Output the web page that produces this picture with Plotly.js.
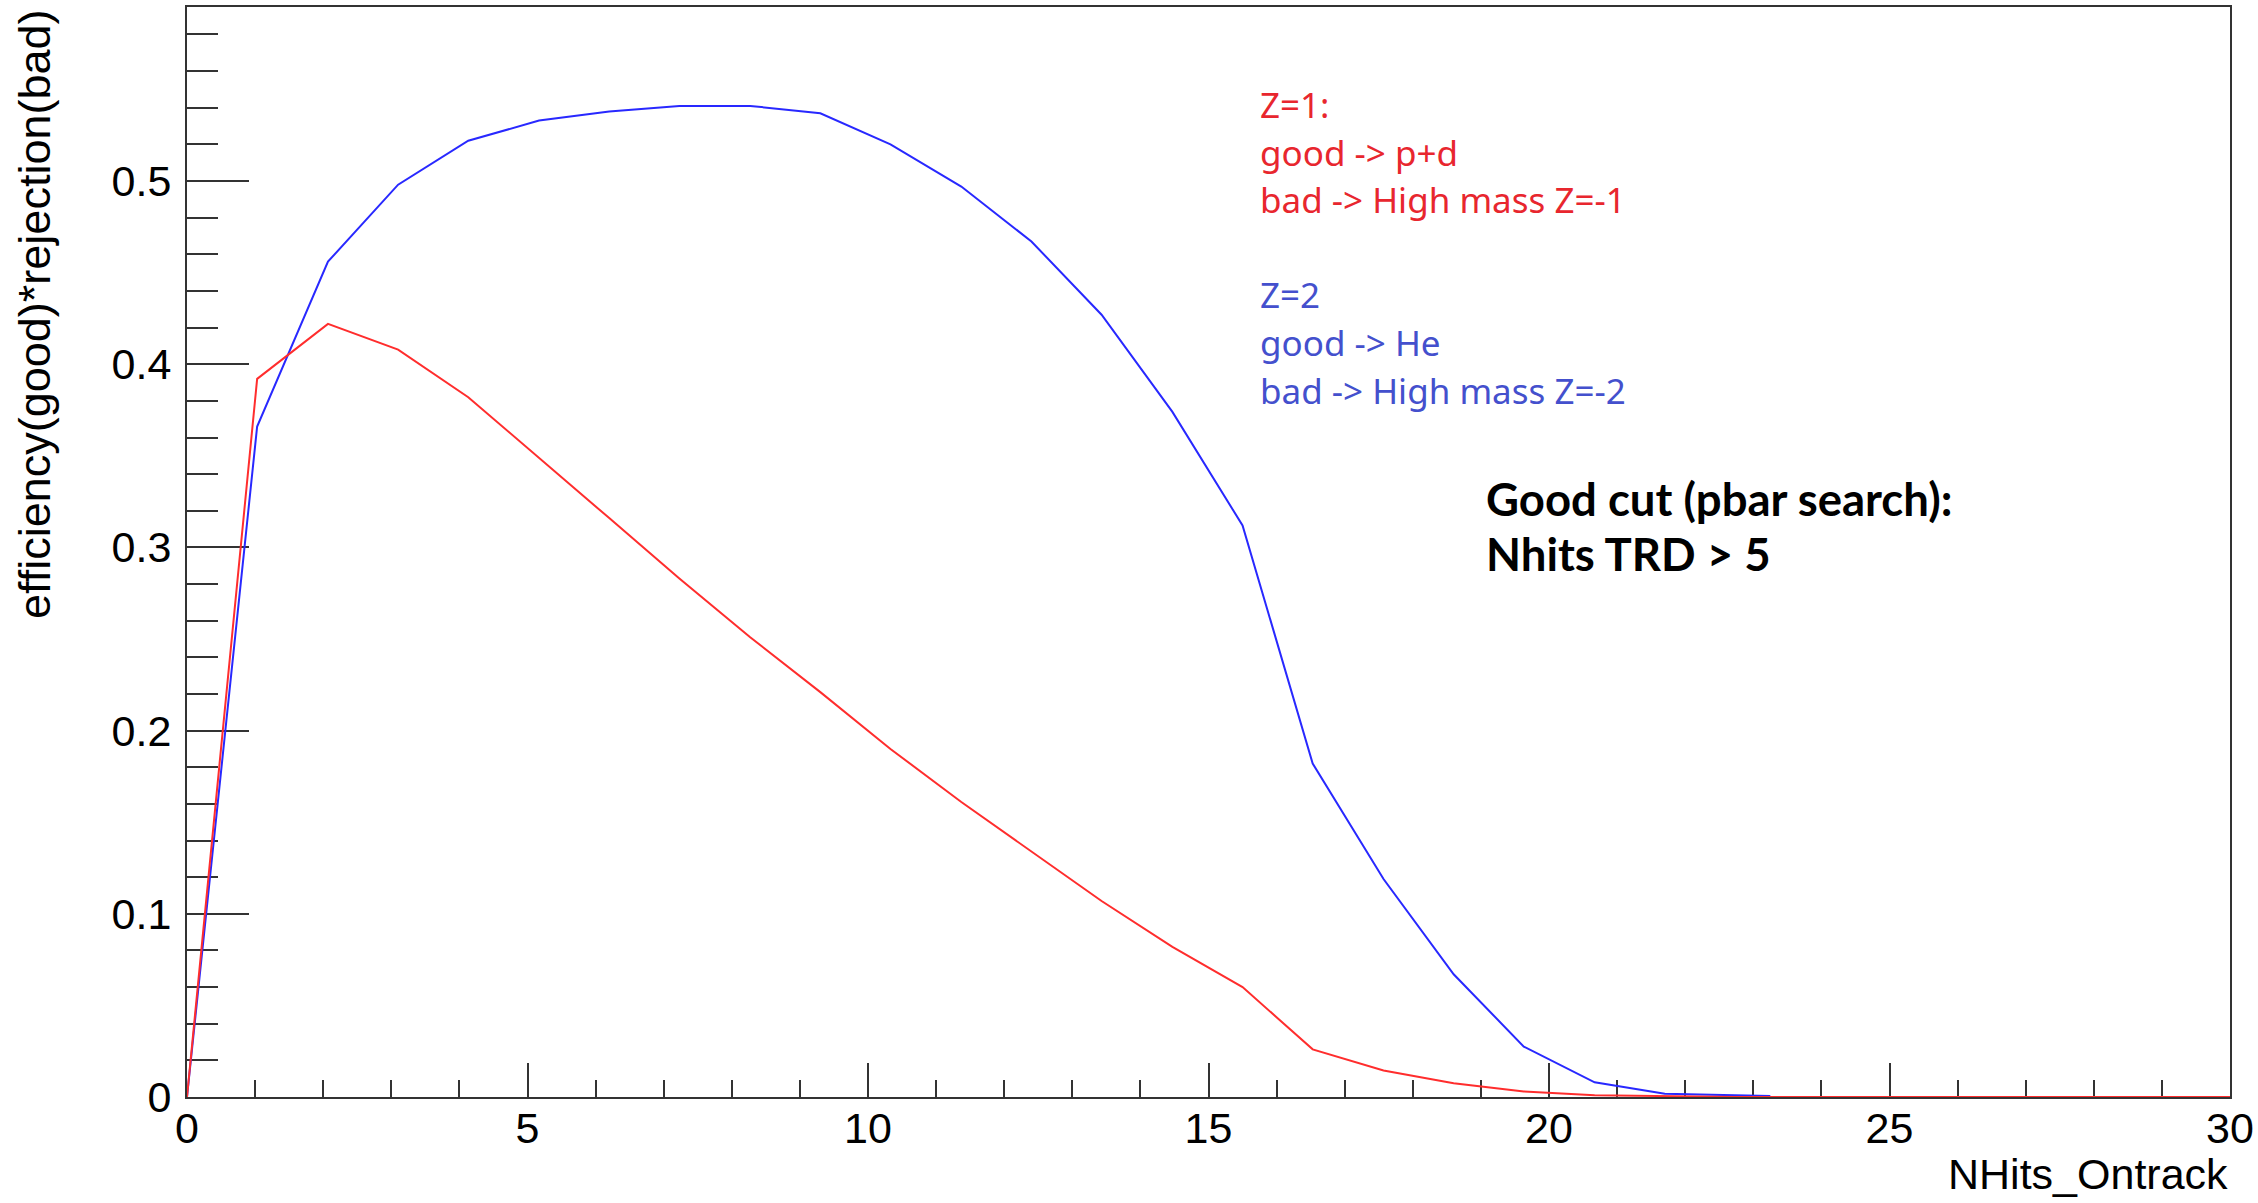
<!DOCTYPE html>
<html>
<head>
<meta charset="utf-8">
<script src="https://cdn.plot.ly/plotly-3.0.1.min.js"></script>
<style>html,body{margin:0;padding:0;background:#fff;}#chart{width:2258px;height:1203px;}</style>
</head>
<body>
<div id="chart"></div>
<script>
// NHits_Ontrack positions
const nhitsZ1 = [0, 1.03, 2.07, 3.1, 4.13, 5.17, 6.2, 7.23, 8.27, 9.3, 10.33, 11.37, 12.4, 13.43, 14.47, 15.5, 16.53, 17.57, 18.6, 19.63, 20.67, 21.7, 22.73, 23.77, 24.8, 25.83, 26.87, 27.9, 28.93, 30];
const nhitsZ2 = [0, 1.03, 2.07, 3.1, 4.13, 5.17, 6.2, 7.23, 8.27, 9.3, 10.33, 11.37, 12.4, 13.43, 14.47, 15.5, 16.53, 17.57, 18.6, 19.63, 20.67, 21.7, 22.73, 23.25];
// efficiency(good)*rejection(bad)
const effRejZ1 = [0, 0.392, 0.422, 0.408, 0.382, 0.349, 0.316, 0.283, 0.251, 0.221, 0.190, 0.161, 0.134, 0.107, 0.082, 0.060, 0.026, 0.0145, 0.0075, 0.003, 0.001, 0.0003, 0, 0, 0, 0, 0, 0, 0, 0];
const effRejZ2 = [0, 0.366, 0.456, 0.498, 0.522, 0.533, 0.538, 0.541, 0.541, 0.537, 0.520, 0.497, 0.467, 0.427, 0.374, 0.312, 0.182, 0.119, 0.067, 0.0275, 0.008, 0.0018, 0.001, 0.0005];

const yTickVals = [0, 0.1, 0.2, 0.3, 0.4, 0.5];
const yTickText = ['0', '0.1', '0.2', '0.3', '0.4', '0.5'];
const xTickVals = [0, 5, 10, 15, 20, 25, 30];
const xTickText = ['0', '5', '10', '15', '20', '25', '30'];

const textZ1 = ['Z=1:', 'good -> p+d', 'bad -> High mass Z=-1'];
const textZ2 = ['Z=2', 'good -> He', 'bad -> High mass Z=-2'];
const textCut = ['Good cut (pbar search):', 'Nhits TRD > 5'];

// pixel geometry helpers
const L = 187, R = 2230, T = 7, B = 1097;
const W = R - L, H = B - T;
const px = x => (x - L) / W;
const py = y => (B - y) / H;

const traces = [
  {x: nhitsZ2, y: effRejZ2, type: 'scatter', mode: 'lines', line: {color: 'rgb(40,40,255)', width: 2}, hoverinfo: 'skip', showlegend: false},
  {x: nhitsZ1, y: effRejZ1, type: 'scatter', mode: 'lines', line: {color: 'rgb(255,45,45)', width: 2}, hoverinfo: 'skip', showlegend: false}
];

const annotations = [];
const redCols = 'rgb(232,38,46)', blueCols = 'rgb(68,80,205)';
const z1Y = [105, 153, 200];
const z2Y = [294, 342, 390];
textZ1.forEach((t, i) => annotations.push({xref: 'paper', yref: 'paper', x: px(1258), y: py(z1Y[i]), xanchor: 'left', yanchor: 'middle', text: t, showarrow: false, font: {family: 'Noto Sans', size: 35, color: redCols}}));
textZ2.forEach((t, i) => annotations.push({xref: 'paper', yref: 'paper', x: px(1258), y: py(z2Y[i]), xanchor: 'left', yanchor: 'middle', text: t, showarrow: false, font: {family: 'Noto Sans', size: 35, color: blueCols}}));
const cutY = [498, 553];
textCut.forEach((t, i) => annotations.push({xref: 'paper', yref: 'paper', x: px(1484), y: py(cutY[i]), xanchor: 'left', yanchor: 'middle', text: '<b>' + t + '</b>', showarrow: false, font: {family: 'Lato', size: 45.5, color: '#000'}}));
// axis titles (ROOT style: aligned to axis ends)
annotations.push({xref: 'paper', yref: 'paper', x: px(34), y: 1, xanchor: 'center', yanchor: 'top', textangle: -90, text: 'efficiency(good)*rejection(bad)', showarrow: false, font: {family: 'Liberation Sans', size: 45, color: '#000'}});
annotations.push({xref: 'paper', yref: 'paper', x: 1, y: py(1148), xanchor: 'right', yanchor: 'top', text: 'NHits_Ontrack', showarrow: false, font: {family: 'Liberation Sans', size: 43, color: '#000'}});

const layout = {
  width: 2258, height: 1203,
  margin: {l: L, r: 2258 - R, t: T, b: 1203 - B, pad: 0},
  paper_bgcolor: '#fff', plot_bgcolor: '#fff',
  showlegend: false,
  xaxis: {
    range: [0, 30], showgrid: false, zeroline: false,
    showline: true, mirror: true, linecolor: '#333', linewidth: 2, layer: 'below traces',
    ticks: 'inside', ticklen: 34, tickwidth: 2, tickcolor: '#333',
    tickvals: xTickVals, ticktext: xTickText,
    tickfont: {family: 'Liberation Sans', size: 43, color: '#000'},
    ticklabelstandoff: -8,
    minor: {ticks: 'inside', ticklen: 17, tickwidth: 2, tickcolor: '#333', dtick: 1, showgrid: false}
  },
  yaxis: {
    range: [0, 0.595], showgrid: false, zeroline: false,
    showline: true, mirror: true, linecolor: '#333', linewidth: 2, layer: 'below traces',
    ticks: 'inside', ticklen: 62, tickwidth: 2, tickcolor: '#333',
    tickvals: yTickVals, ticktext: yTickText,
    tickfont: {family: 'Liberation Sans', size: 43, color: '#000'},
    ticklabelstandoff: 5,
    minor: {ticks: 'inside', ticklen: 31, tickwidth: 2, tickcolor: '#333', dtick: 0.02, showgrid: false}
  },
  annotations: annotations
};

Plotly.newPlot('chart', traces, layout, {staticPlot: true, displayModeBar: false});
</script>
</body>
</html>
